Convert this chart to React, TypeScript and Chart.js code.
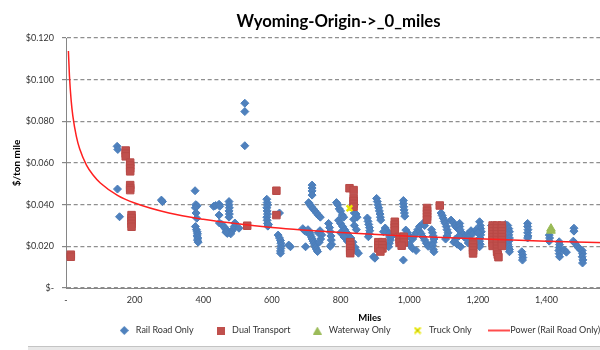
import { useEffect, useRef } from 'react';
import { Chart, registerables } from 'chart.js';

Chart.register(...registerables);

const chartTitle = 'Wyoming-Origin->_0_miles';
const xAxisTitle = 'Miles';
const yAxisTitle = '$/ton mile';
const seriesNames = ['Rail Road Only', 'Dual Transport', 'Waterway Only', 'Truck Only', 'Power (Rail Road Only)'];

const xTicks = [0, 200, 400, 600, 800, 1000, 1200, 1400, 1600];
const yTicks = [0, 0.02, 0.04, 0.06, 0.08, 0.1, 0.12];

// [miles, $/ton mile]
const railRoadOnly: [number, number][] = [
  [149, 0.068], [151, 0.0665], [150, 0.0475], [156, 0.0342],
  [278, 0.0422], [281, 0.0415],
  [376, 0.0467], [378, 0.04], [382, 0.0395], [377, 0.0385], [379, 0.036], [381, 0.0335], [377, 0.0295], [380, 0.028], [382, 0.027], [383, 0.026], [382, 0.025], [384, 0.024], [383, 0.023], [385, 0.022],
  [430, 0.0392], [436, 0.0396], [446, 0.0402], [448, 0.0392], [446, 0.035], [447, 0.0312],
  [475, 0.0415], [475, 0.04], [476, 0.0385], [475, 0.037], [476, 0.0355], [475, 0.034],
  [454, 0.0305], [460, 0.0295], [464, 0.0285], [468, 0.0278], [472, 0.027], [478, 0.0268], [482, 0.0272], [486, 0.028], [490, 0.0295], [492, 0.0312], [470, 0.0262], [480, 0.026], [466, 0.0268],
  [504, 0.0287],
  [521, 0.0887], [521, 0.0847], [521, 0.0683],
  [585, 0.0426], [586, 0.041], [587, 0.0398], [585, 0.0385], [586, 0.037], [587, 0.0355], [585, 0.034], [586, 0.0325], [587, 0.031], [588, 0.0297], [590, 0.0305],
  [622, 0.036],
  [618, 0.0254], [622, 0.024], [625, 0.0228], [626, 0.0215], [627, 0.0203], [626, 0.019], [625, 0.0178], [625, 0.0167], [654, 0.0198], [649, 0.0206],
  [717, 0.0494], [717, 0.048], [717, 0.0466], [717, 0.0446],
  [707, 0.041], [711, 0.04], [715, 0.039], [720, 0.038], [725, 0.037], [730, 0.036], [735, 0.035], [741, 0.034],
  [690, 0.0285], [695, 0.0275], [700, 0.027], [705, 0.028], [710, 0.0265], [712, 0.0255], [715, 0.0245], [717, 0.0235], [720, 0.0225], [722, 0.0215], [725, 0.0205], [727, 0.0195], [730, 0.0185], [733, 0.0175], [698, 0.0198], [735, 0.0265], [740, 0.0275], [745, 0.0255], [742, 0.0235], [738, 0.022],
  [765, 0.031], [768, 0.029], [770, 0.027], [772, 0.025], [773, 0.023], [774, 0.021], [770, 0.02],
  [788, 0.041], [792, 0.04], [796, 0.038], [800, 0.037], [805, 0.035], [809, 0.034],
  [794, 0.0325], [800, 0.031], [806, 0.0295], [812, 0.028], [818, 0.0265], [824, 0.025], [830, 0.024], [836, 0.022], [842, 0.0195], [845, 0.018], [852, 0.0167], [800, 0.0265], [810, 0.0245], [820, 0.0225], [840, 0.03], [846, 0.028],
  [840, 0.036], [845, 0.0355], [848, 0.034], [838, 0.033],
  [878, 0.0336], [880, 0.032], [882, 0.0305], [884, 0.029], [885, 0.0275], [883, 0.026], [881, 0.0246],
  [896, 0.015], [900, 0.0143],
  [905, 0.043], [907, 0.0415], [909, 0.04], [911, 0.0385], [913, 0.037], [915, 0.0355], [916, 0.034], [917, 0.0326],
  [930, 0.0288], [935, 0.0275], [940, 0.026], [943, 0.0245], [945, 0.023], [942, 0.0215], [940, 0.0198], [925, 0.027], [950, 0.025],
  [983, 0.042], [983, 0.0405], [984, 0.039], [985, 0.0375], [986, 0.036], [987, 0.0345], [983, 0.0134],
  [990, 0.0278], [995, 0.0265], [1000, 0.025], [1005, 0.024], [1010, 0.0235], [1015, 0.025], [1020, 0.0265], [1025, 0.028], [1030, 0.0272], [1035, 0.026], [1040, 0.0245], [1045, 0.023], [1050, 0.0215], [1055, 0.02], [1000, 0.021], [1010, 0.019], [1020, 0.018], [1030, 0.0295], [1040, 0.031], [1045, 0.03],
  [1065, 0.028], [1068, 0.0265], [1070, 0.025], [1072, 0.0235], [1070, 0.022], [1068, 0.0205], [1070, 0.0185], [1072, 0.0174],
  [1093, 0.036], [1096, 0.0348], [1099, 0.0335], [1102, 0.032], [1105, 0.031], [1108, 0.0295], [1110, 0.028], [1113, 0.0265], [1110, 0.025], [1106, 0.0235],
  [1122, 0.0326], [1128, 0.0315], [1133, 0.03], [1138, 0.029], [1144, 0.0282], [1150, 0.027], [1156, 0.026], [1160, 0.0245], [1145, 0.025], [1135, 0.0235], [1130, 0.022], [1140, 0.021], [1150, 0.0198],
  [1147, 0.031], [1147, 0.0295], [1148, 0.028],
  [1171, 0.026], [1172, 0.0245], [1170, 0.023], [1172, 0.0216], [1180, 0.0275], [1185, 0.026],
  [1205, 0.0318], [1207, 0.03], [1208, 0.0285], [1210, 0.027], [1208, 0.0255], [1206, 0.024], [1205, 0.0225], [1207, 0.021], [1205, 0.0198], [1195, 0.028], [1200, 0.0265],
  [1240, 0.03], [1280, 0.0305], [1283, 0.022],
  [1287, 0.03], [1290, 0.0285], [1292, 0.027], [1290, 0.0255], [1292, 0.024], [1290, 0.0225], [1288, 0.021], [1290, 0.0198], [1292, 0.0185], [1292, 0.0174],
  [1328, 0.0174], [1330, 0.016], [1331, 0.0146], [1330, 0.0134],
  [1345, 0.031], [1345, 0.0295], [1346, 0.028], [1345, 0.0265], [1346, 0.025], [1345, 0.024],
  [1408, 0.0254], [1409, 0.024], [1408, 0.0225],
  [1437, 0.0222], [1438, 0.0208], [1437, 0.0194], [1436, 0.018], [1437, 0.0165], [1438, 0.015],
  [1452, 0.0182], [1458, 0.0172],
  [1480, 0.0287], [1480, 0.0273],
  [1478, 0.0225], [1483, 0.0215], [1490, 0.02], [1495, 0.019], [1500, 0.0182],
  [1504, 0.018], [1505, 0.0165], [1504, 0.015], [1506, 0.0135], [1505, 0.012],
];

const dualTransport: [number, number][] = [
  [14, 0.016], [14, 0.015],
  [174, 0.066], [174, 0.0645], [174, 0.0632],
  [187, 0.0602], [187, 0.0588], [187, 0.0574], [187, 0.056],
  [187, 0.0494], [187, 0.048], [187, 0.047],
  [191, 0.035], [191, 0.0336], [191, 0.0322], [191, 0.0308], [191, 0.0294],
  [528, 0.0299],
  [613, 0.0467], [613, 0.035],
  [826, 0.0479], [838, 0.047], [838, 0.0432], [838, 0.0418], [838, 0.0404], [838, 0.039],
  [828, 0.022], [828, 0.0206], [828, 0.0192], [828, 0.0178], [828, 0.0167],
  [910, 0.022], [922, 0.022], [910, 0.0205], [922, 0.0205], [910, 0.019], [922, 0.019], [916, 0.0175],
  [958, 0.0318], [958, 0.0304], [958, 0.029], [958, 0.0276],
  [972, 0.0246], [984, 0.0246], [972, 0.0232], [984, 0.0232], [972, 0.0218], [984, 0.0218], [978, 0.0203],
  [1052, 0.0384], [1052, 0.037], [1052, 0.0356], [1052, 0.0342], [1052, 0.0328],
  [1089, 0.0396],
  [1186, 0.0222], [1186, 0.0208], [1186, 0.0194], [1186, 0.018], [1186, 0.0166],
  [1243, 0.03], [1243, 0.0286], [1243, 0.0272], [1243, 0.0258], [1243, 0.0244], [1243, 0.023], [1243, 0.0216], [1243, 0.0202],
  [1256, 0.03], [1256, 0.0286], [1256, 0.0272], [1256, 0.0258], [1256, 0.0244], [1256, 0.023], [1256, 0.0216], [1256, 0.0202], [1256, 0.0188], [1256, 0.0174], [1258, 0.016], [1260, 0.0148],
  [1270, 0.03], [1270, 0.0286], [1270, 0.0272], [1270, 0.0258], [1270, 0.0244], [1270, 0.023], [1270, 0.0216], [1270, 0.0202],
];

const waterwayOnly: [number, number][] = [[1413, 0.0285], [1413, 0.0275]];
const truckOnly: [number, number][] = [[826, 0.0383]];

const trendMiles = [7, 10, 15, 20, 30, 40, 60, 80, 100, 150, 200, 300, 400, 500, 600, 800, 1000, 1200, 1400, 1600, 1770];
const trendCost = [0.1138, 0.102, 0.0901, 0.0825, 0.0729, 0.0667, 0.0589, 0.054, 0.0504, 0.0445, 0.0408, 0.036, 0.033, 0.0308, 0.0291, 0.0267, 0.0249, 0.0236, 0.0225, 0.0216, 0.0209];

const FONT = 'Lato, "Open Sans", sans-serif';
const TEXT = '#333333';
const AXIS = '#868686';
const COLORS = { rail: '#4F81BD', dual: '#C0504D', water: '#9BBB59', truck: '#E6E600', trend: '#FF2020' };

const toXY = (arr: [number, number][]) => arr.map(([x, y]) => ({ x, y }));
const withCommas = (n: number) => String(Math.round(n)).replace(/\B(?=(\d{3})+(?!\d))/g, ',');

function legendIcon(w: number, h: number, draw: (c: CanvasRenderingContext2D) => void) {
  const cv = document.createElement('canvas');
  cv.width = w;
  cv.height = h;
  const c = cv.getContext('2d');
  if (c) draw(c);
  return cv;
}

// nudges the legend row left, the way the source's legend sits
const legendShift = {
  id: 'legendShift',
  afterLayout(chart: any) {
    const lg = chart.legend;
    if (lg) {
      lg.left -= 11;
      lg.right -= 11;
    }
  },
};

export default function App() {
  const ref = useRef<HTMLCanvasElement | null>(null);

  useEffect(() => {
    if (!ref.current) return;
    const icons = [
      legendIcon(9, 9, (c) => {
        c.fillStyle = COLORS.rail;
        c.beginPath();
        c.moveTo(4.5, 0); c.lineTo(9, 4.5); c.lineTo(4.5, 9); c.lineTo(0, 4.5);
        c.closePath();
        c.fill();
      }),
      legendIcon(8, 8, (c) => {
        c.fillStyle = COLORS.dual;
        c.fillRect(0, 0, 8, 8);
      }),
      legendIcon(9, 8, (c) => {
        c.fillStyle = COLORS.water;
        c.beginPath();
        c.moveTo(4.5, 0); c.lineTo(9, 8); c.lineTo(0, 8);
        c.closePath();
        c.fill();
      }),
      legendIcon(8, 8, (c) => {
        c.strokeStyle = COLORS.truck;
        c.lineWidth = 2;
        c.beginPath();
        c.moveTo(1, 1); c.lineTo(7, 7); c.moveTo(7, 1); c.lineTo(1, 7);
        c.stroke();
        c.fillStyle = '#555';
        c.fillRect(3.5, 3.5, 1, 1);
      }),
      legendIcon(22, 4, (c) => {
        c.strokeStyle = COLORS.trend;
        c.lineWidth = 1.6;
        c.beginPath();
        c.moveTo(0, 2); c.lineTo(22, 2);
        c.stroke();
      }),
    ];

    const chart = new Chart(ref.current, {
      type: 'scatter',
      plugins: [legendShift],
      data: {
        datasets: [
          {
            label: seriesNames[0],
            data: toXY(railRoadOnly),
            pointStyle: 'rectRot',
            pointRadius: 4,
            backgroundColor: COLORS.rail,
            borderColor: '#4A7EBB',
            borderWidth: 1,
            order: 5,
          },
          {
            label: seriesNames[1],
            data: toXY(dualTransport),
            pointStyle: 'rect',
            pointRadius: 5.3,
            backgroundColor: COLORS.dual,
            borderColor: '#B84A47',
            borderWidth: 1,
            order: 4,
          },
          {
            label: seriesNames[2],
            data: toXY(waterwayOnly),
            pointStyle: 'triangle',
            pointRadius: 5,
            backgroundColor: COLORS.water,
            borderColor: '#98B954',
            borderWidth: 1,
            order: 3,
          },
          {
            label: seriesNames[3],
            data: toXY(truckOnly),
            pointStyle: 'crossRot',
            pointRadius: 4,
            backgroundColor: '#FFFF00',
            borderColor: COLORS.truck,
            borderWidth: 2.5,
            order: 2,
          },
          {
            type: 'line',
            label: seriesNames[4],
            data: trendMiles.map((m, i) => ({ x: m, y: trendCost[i] })),
            borderColor: COLORS.trend,
            backgroundColor: COLORS.trend,
            borderWidth: 1.5,
            pointRadius: 0,
            pointStyle: 'line',
            fill: false,
            cubicInterpolationMode: 'monotone',
            order: 1,
          } as any,
        ],
      },
      options: {
        animation: false,
        responsive: false,
        devicePixelRatio: 1,
        layout: { padding: { top: 0, left: 0, right: 3, bottom: 5 } },
        plugins: {
          title: {
            display: true,
            text: chartTitle,
            color: '#000',
            font: { family: FONT, size: 16.7, weight: 'bold' },
            padding: { top: 12, bottom: 6 },
          },
          legend: {
            position: 'bottom',
            fullSize: false,
            align: 'center',
            labels: {
              usePointStyle: true,
              boxHeight: 6,
              boxWidth: 14,
              pointStyleWidth: 14,
              padding: 20,
              color: TEXT,
              font: { family: FONT, size: 9 },
              sort: (a: any, b: any) => a.datasetIndex - b.datasetIndex,
              generateLabels: (c: any) => {
                const items = Chart.defaults.plugins.legend.labels.generateLabels(c);
                items.forEach((it: any) => {
                  it.pointStyle = icons[it.datasetIndex];
                });
                return items;
              },
            },
          },
          tooltip: { enabled: false },
        },
        scales: {
          x: {
            type: 'linear',
            min: 0,
            max: 1770,
            afterBuildTicks: (s: any) => {
              s.ticks = xTicks.map((v) => ({ value: v }));
            },
            afterFit: (s: any) => {
              s.height = 18;
            },
            grid: { display: false, drawTicks: false },
            border: { display: true, color: AXIS, width: 1 },
            ticks: {
              padding: 7,
              color: TEXT,
              font: { family: FONT, size: 9 },
              maxRotation: 0,
              autoSkip: false,
              callback: (v: any) => (Number(v) === 0 ? '-' : withCommas(Number(v))),
            },
            title: {
              display: true,
              text: xAxisTitle,
              color: '#000',
              font: { family: FONT, size: 9.5, weight: 'bold' },
              padding: { top: 0, bottom: -18 },
            },
          },
          y: {
            type: 'linear',
            min: 0,
            max: 0.12,
            afterBuildTicks: (s: any) => {
              s.ticks = yTicks.map((v) => ({ value: v }));
            },
            afterFit: (s: any) => {
              s.width = 66;
            },
            grid: {
              color: '#8f8f8f',
              lineWidth: 1.2,
              drawTicks: true,
              tickLength: 4,
              tickColor: AXIS,
              tickBorderDash: [],
            },
            border: { display: true, color: AXIS, width: 1, dash: [4, 2.7] },
            ticks: {
              padding: 8,
              color: TEXT,
              font: { family: FONT, size: 9 },
              callback: (v: any) => (Number(v) === 0 ? '$-' : '$' + Number(v).toFixed(3)),
            },
            title: {
              display: true,
              text: yAxisTitle,
              color: '#000',
              font: { family: FONT, size: 10, weight: 'bold' },
              padding: { top: 11, bottom: 0 },
            },
          },
        },
      },
    });
    return () => chart.destroy();
  }, []);

  return (
    <div style={{ position: 'absolute', left: 0, top: 0, width: 600, height: 350, overflow: 'hidden', background: '#fff' }}>
      <canvas ref={ref} width={680} height={350} style={{ display: 'block' }} />
      <div style={{ position: 'absolute', left: 28, top: 346, width: 572, height: 4, background: '#e8e8e8', borderTop: '1px solid #c4c4c4' }} />
    </div>
  );
}
